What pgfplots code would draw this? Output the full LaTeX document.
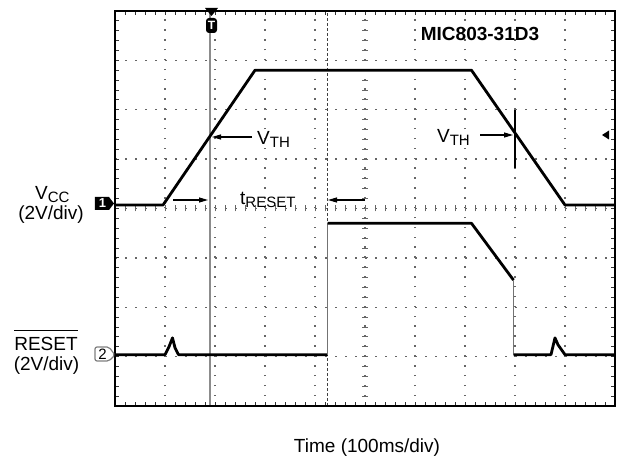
\documentclass[border=0pt]{standalone}
\usepackage{fontspec}
\setmainfont{Liberation Sans}
\usepackage{pgfplots}
\pgfplotsset{compat=1.18}
\usetikzlibrary{arrows.meta}
\newcommand{\sub}[1]{\raisebox{-2.5pt}{\fontsize{15}{15}\selectfont #1}}
\begin{document}
\fontsize{19}{22}\selectfont
\begin{tikzpicture}[x=1pt,y=1pt,>={Triangle[length=9pt,width=5pt]}]
\useasboundingbox (-115,-49) rectangle (503,406);
% centre-line crosses, trigger line, cursor (drawn behind the traces)
\foreach \i in {1,...,49} \draw[black!60, line width=0.9pt] (\i*10,194.5) -- (\i*10,200.5);
\foreach \j in {1,...,39} \draw[black!60, line width=0.9pt] (247,\j*9.875) -- (253,\j*9.875);
\draw[black!45, line width=1.8pt] (95,0) -- (95,395);
\draw[black!75, line width=1.2pt, dash pattern=on 3pt off 2pt] (212.5,0) -- (212.5,395);
\begin{axis}[
  at={(0,0)}, anchor=south west,
  scale only axis, width=500pt, height=395pt,
  xmin=0, xmax=10, ymin=-4, ymax=4,
  xtick={0,...,10}, ytick={-4,...,4},
  minor tick num=4,
  xticklabels={}, yticklabels={},
  tick align=inside,
  major tick length=4pt, minor tick length=4pt,
  tick style={black!80, line width=0.9pt},
  grid=major,
  x grid style={black!60, line width=1.5pt, dash pattern=on 1.5pt off 8.375pt},
  y grid style={black!60, line width=1.5pt, dash pattern=on 1.5pt off 8.5pt},
  axis line style={line width=2.2pt},
  clip=false,
]
% VCC
\addplot[black, line width=2.8pt, line join=round] coordinates {
 (0,0.07) (0.96,0.07) (2.8,2.80) (7.13,2.80) (9.0,0.07) (10,0.07)};
% RESET
\addplot[black, line width=2.8pt, line join=round] coordinates {
 (0,-2.96) (1.0,-2.96) (1.08,-2.80) (1.15,-2.62) (1.20,-2.82) (1.27,-2.96) (4.25,-2.96)};
\addplot[black!55, line width=1.2pt] coordinates {(4.25,-2.96) (4.25,-0.30)};
\addplot[black, line width=2.8pt, line join=round] coordinates {
 (4.25,-0.30) (7.13,-0.30) (7.97,-1.45)};
\addplot[black!55, line width=1.2pt] coordinates {(7.97,-1.45) (7.97,-2.96)};
\addplot[black, line width=2.8pt, line join=round] coordinates {
 (7.97,-2.96) (8.72,-2.96) (8.80,-2.62) (8.86,-2.76) (9.0,-2.96) (10,-2.96)};
\end{axis}
% title
\node[anchor=base, font=\bfseries, inner sep=0] at (365,365) {MIC803-31D3};
% VTH left
\draw[->, line width=1.1pt] (137,269) -- (97,269);
\node[anchor=base west, inner sep=0] at (142,261) {V\sub{TH}};
% VTH right
\node[anchor=base east, inner sep=0] at (355,263) {V\sub{TH}};
\draw[->, line width=1.1pt] (365,271) -- (398,271);
\draw[line width=1.1pt] (400,296) -- (400,238);
% tRESET
\node[anchor=base west, inner sep=0] at (125,201) {t\sub{RESET}};
\draw[->, line width=1.1pt] (58,206) -- (93,206);
\draw[->, line width=1.1pt] (250,206) -- (213,206);
% trigger level marker (right)
\fill (487,271) -- (494,275.5) -- (494,266.5) -- cycle;
% trigger marker top
\fill (90,398) -- (103,398) -- (96.5,390) -- cycle;
\node[fill=black, text=white, rounded corners=3pt, inner sep=1pt, minimum width=11pt, minimum height=15pt, font=\fontsize{12}{12}\selectfont\bfseries] at (96.5,380.5) {T};
% channel markers
\fill (-20,196) -- (-6,196) -- (-1,202.5) -- (-6,209) -- (-20,209) -- cycle;
\node[text=white, font=\fontsize{13}{13}\selectfont\bfseries, inner sep=0] at (-12.5,202.5) {1};
\draw[black!50, line width=1.2pt, rounded corners=2pt] (-20,45) -- (-6,45) -- (0,51) -- (-6,59) -- (-20,59) -- cycle;
\node[font=\fontsize{15}{15}\selectfont, inner sep=0] at (-12.5,52) {2};
% left labels
\node[anchor=base west, inner sep=0] at (-80,206) {V\sub{CC}};
\node[anchor=base, inner sep=0] at (-64,186) {(2V/div)};
\node[anchor=base, inner sep=0] (rs) at (-69,56) {RESET};
\draw[line width=1pt] ([yshift=6pt]rs.north west) -- ([yshift=6pt]rs.north east);
\node[anchor=base, inner sep=0] at (-68.5,35) {(2V/div)};
% x label
\node[anchor=base, inner sep=0] at (252,-46.5) {Time (100ms/div)};
\end{tikzpicture}
\end{document}
